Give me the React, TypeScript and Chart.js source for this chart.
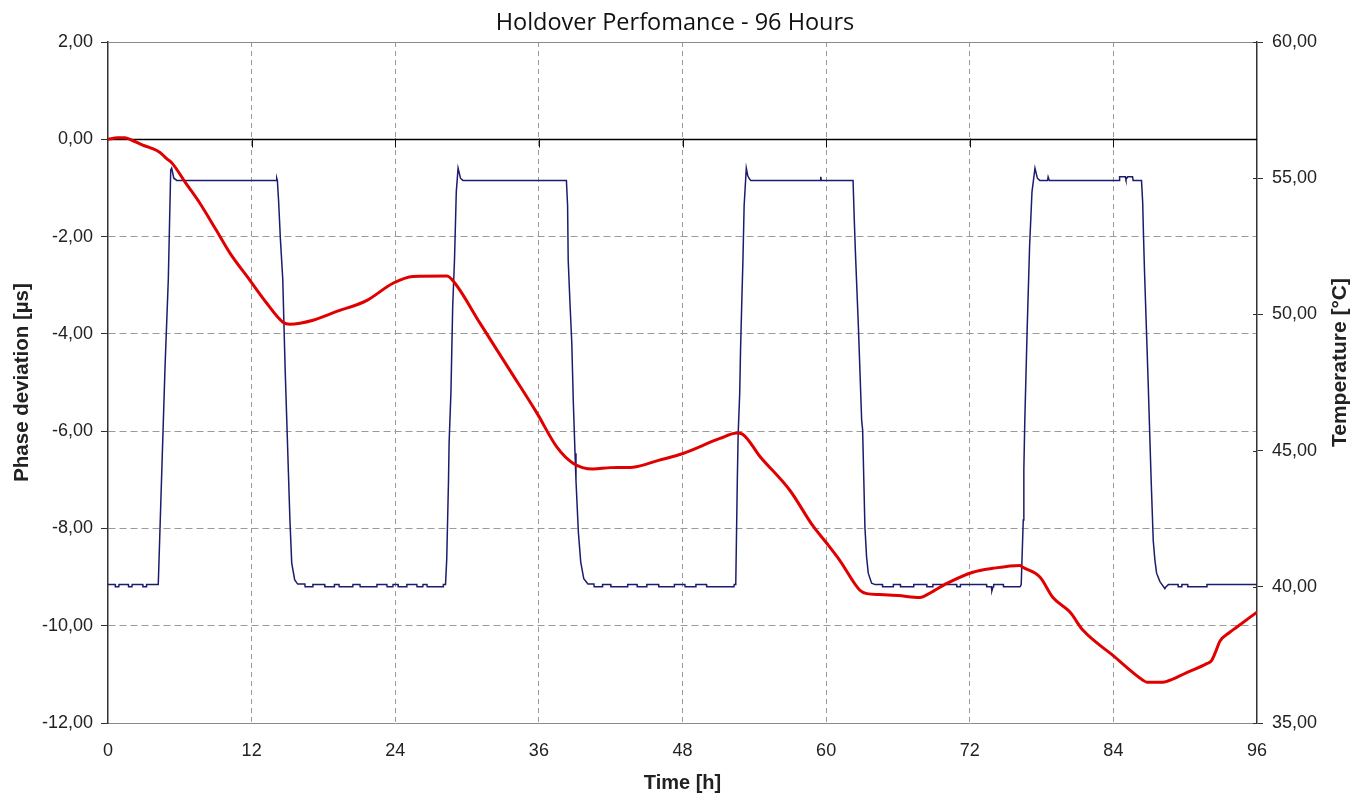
import React, { useEffect, useRef } from 'react';
import { Chart, registerables } from 'chart.js';

Chart.register(...registerables);

const chartTitle = 'Holdover Perfomance - 96 Hours';
const xAxisTitle = 'Time [h]';
const leftAxisTitle = 'Phase deviation [µs]';
const rightAxisTitle = 'Temperature [°C]';

const xTicks = [0, 12, 24, 36, 48, 60, 72, 84, 96];
const phaseTicks = [-12, -10, -8, -6, -4, -2, 0, 2];
const tempTicks = [35, 40, 45, 50, 55, 60];

// Phase deviation (red), µs
const phaseHours = [
  0, 0.8, 1.4, 2.0, 2.9, 3.6, 4.34, 4.9, 5.35, 6.5, 7.69, 9.0, 10.19, 11.86, 13.2, 14.62, 15.2,
  16.04, 17.13, 19.0, 21.64, 23.81, 25.48, 28.32, 28.99, 31.08, 33.58, 35.84, 37.51, 38.85,
  40.52, 42.0, 43.86, 46.0, 48.04, 51.13, 52.55, 53.0, 54.47, 56.98, 58.9, 60.07, 61.15, 62.82,
  63.4, 64.49, 66.0, 67.84, 68.67, 70.09, 72.26, 73.93, 76.19, 76.44, 77.86, 78.95, 80.37,
  81.45, 83.96, 86.47, 86.8, 88.14, 88.4, 90.0, 91.8, 92.2, 92.6, 92.9, 93.7, 94.3, 96.0,
];
const phaseValues = [
  0.0, 0.03, 0.03, -0.02, -0.12, -0.18, -0.27, -0.4, -0.49, -0.9, -1.32, -1.85, -2.34, -2.9, -3.35,
  -3.76, -3.8, -3.78, -3.72, -3.55, -3.31, -2.96, -2.82, -2.81, -2.96, -3.78, -4.75, -5.63, -6.33,
  -6.66, -6.78, -6.75, -6.74, -6.6, -6.46, -6.15, -6.04, -6.06, -6.52, -7.22, -7.95, -8.31, -8.66,
  -9.27, -9.34, -9.36, -9.38, -9.42, -9.33, -9.13, -8.9, -8.82, -8.76, -8.8, -9.0, -9.42, -9.72,
  -10.09, -10.61, -11.12, -11.16, -11.16, -11.15, -10.98, -10.78, -10.72, -10.5, -10.32, -10.14,
  -10.03, -9.72,
];

// Temperature (navy), °C
const tempHours = [
  0, 0.6, 0.62, 0.9, 0.92, 1.7, 1.72, 2.0, 2.02, 2.9, 2.92, 3.2, 3.22, 4.2,
  4.3, 4.76, 5.04, 5.24, 5.32, 5.5, 5.75,
  14.05, 14.1, 14.15,
  14.25, 14.4, 14.6, 14.8, 15.2, 15.35, 15.6, 15.85,
  16.45, 16.47, 17.1, 17.12, 18.1, 18.12, 18.9, 18.92, 19.3, 19.32, 20.45, 20.47, 21.05, 21.07,
  22.45, 22.47, 23.3, 23.32, 23.8, 23.82, 24.23, 24.25, 24.95, 24.97, 25.8, 25.82, 26.3, 26.32,
  26.65, 26.67, 28.0, 28.02, 28.2,
  28.3, 28.45, 28.5, 28.65, 28.8, 28.95, 29.1, 29.25, 29.45, 29.65,
  38.3,
  38.4, 38.45, 38.6, 38.75, 38.88, 39.02, 39.1, 39.3, 39.5, 39.75, 40.1,
  40.6, 40.62, 41.3, 41.32, 42.0, 42.02, 43.4, 43.42, 44.2, 44.22, 45.0, 45.02, 46.0, 46.02,
  47.3, 47.32, 48.2, 48.22, 49.1, 49.12, 50.0, 50.02, 52.3, 52.32, 52.45,
  52.58, 52.65, 52.78, 52.85, 52.95, 53.05, 53.15, 53.33, 53.45, 53.55, 53.7,
  59.5, 59.55, 59.6, 62.25,
  62.35, 62.45, 62.7, 62.97, 63.05, 63.15, 63.24, 63.38, 63.52, 63.8, 64.1,
  64.7, 64.72, 65.6, 65.62, 66.2, 66.22, 67.3, 67.32, 68.4, 68.42, 68.9, 68.92, 70.9, 70.92,
  71.2, 71.22, 73.4, 73.42, 73.8, 73.85, 73.95, 74.0, 74.8, 74.82, 76.2, 76.3,
  76.47, 76.52, 76.6, 76.8, 77.0, 77.2, 77.45, 77.65, 77.85,
  78.5, 78.55, 78.65, 84.5, 84.52, 85.0, 85.05, 85.2, 85.6, 85.65, 86.35,
  86.45, 86.52, 86.6, 86.9, 87.15, 87.33, 87.47, 87.61, 87.89, 88.2, 88.3, 88.4, 88.6,
  89.4, 89.42, 89.7, 89.72, 90.2, 90.22, 91.8, 91.82, 96,
];
const tempValues = [
  40.08, 40.08, 40.0, 40.0, 40.08, 40.08, 40.0, 40.0, 40.08, 40.08, 40.0, 40.0, 40.08, 40.08,
  41.5, 48.0, 51.3, 55.3, 55.37, 55.0, 54.92,
  54.92, 55.0, 54.92,
  54.2, 52.8, 51.3, 48.0, 42.45, 40.87, 40.25, 40.1,
  40.1, 40.0, 40.0, 40.08, 40.08, 40.0, 40.0, 40.08, 40.08, 40.0, 40.0, 40.08, 40.08, 40.0,
  40.0, 40.08, 40.08, 40.0, 40.0, 40.08, 40.08, 40.0, 40.0, 40.08, 40.08, 40.0, 40.0, 40.08,
  40.08, 40.0, 40.0, 40.08, 40.08,
  41.0, 43.9, 45.3, 47.1, 50.3, 52.0, 54.5, 55.37, 55.0, 54.92,
  54.92,
  54.0, 52.0, 50.4, 48.95, 46.75, 44.9, 43.9, 42.0, 40.9, 40.3, 40.1,
  40.1, 40.0, 40.0, 40.08, 40.08, 40.0, 40.0, 40.08, 40.08, 40.0, 40.0, 40.08, 40.08, 40.0,
  40.0, 40.08, 40.08, 40.0, 40.0, 40.08, 40.08, 40.0, 40.0, 40.08, 40.08,
  43.9, 45.6, 47.1, 48.7, 50.4, 52.0, 54.0, 55.37, 55.1, 55.0, 54.92,
  54.92, 55.05, 54.92, 54.92,
  53.5, 52.25, 49.5, 46.1, 45.76, 43.9, 42.2, 41.1, 40.5, 40.13, 40.08,
  40.08, 40.0, 40.0, 40.08, 40.08, 40.0, 40.0, 40.08, 40.08, 40.0, 40.0, 40.08, 40.08, 40.0,
  40.0, 40.08, 40.08, 40.0, 40.0, 39.85, 40.0, 40.08, 40.08, 40.0, 40.0, 40.08,
  42.45, 44.3, 46.1, 49.5, 52.5, 54.5, 55.37, 55.0, 54.92,
  54.92, 55.05, 54.92, 54.92, 55.05, 55.05, 54.95, 55.05, 55.05, 54.92, 54.92,
  54.1, 52.85, 51.6, 47.6, 44.0, 41.7, 40.98, 40.5, 40.19, 40.0, 39.93, 40.0, 40.08,
  40.08, 40.0, 40.0, 40.08, 40.08, 40.0, 40.0, 40.08, 40.08,
];

const fmt2 = (v: number) => v.toFixed(2).replace('.', ',');

const framePlugin = {
  id: 'frameExtras',
  beforeDatasetsDraw(chart: any) {
    const { ctx, chartArea, scales } = chart;
    const y = scales.y;
    const x = scales.x;
    const y1 = scales.y1;
    ctx.save();
    // top frame line
    ctx.strokeStyle = '#8a8a8a';
    ctx.lineWidth = 1;
    ctx.beginPath();
    ctx.moveTo(chartArea.left, chartArea.top + 0.5);
    ctx.lineTo(chartArea.right, chartArea.top + 0.5);
    ctx.stroke();
    // zero line
    const y0 = Math.round(y.getPixelForValue(0)) + 0.5;
    ctx.strokeStyle = '#000';
    ctx.lineWidth = 1.5;
    ctx.beginPath();
    ctx.moveTo(chartArea.left, y0);
    ctx.lineTo(chartArea.right, y0);
    ctx.stroke();
    // tick marks on the zero line
    ctx.lineWidth = 1;
    ctx.strokeStyle = '#111';
    xTicks.forEach((t) => {
      if (t === xTicks[0] || t === xTicks[xTicks.length - 1]) return;
      const px = Math.round(x.getPixelForValue(t)) + 0.5;
      ctx.beginPath();
      ctx.moveTo(px, y0 - 1);
      ctx.lineTo(px, y0 + 8);
      ctx.stroke();
    });
    // inner part of right-axis tick marks
    ctx.strokeStyle = '#333';
    tempTicks.forEach((t) => {
      const py = Math.round(y1.getPixelForValue(t)) + 0.5;
      ctx.beginPath();
      ctx.moveTo(chartArea.right - 4, py);
      ctx.lineTo(chartArea.right, py);
      ctx.stroke();
    });
    ctx.restore();
  },
  afterDraw(chart: any) {
    const { ctx, chartArea } = chart;
    ctx.save();
    ctx.font = 'bold 21px "Liberation Sans", Arial, sans-serif';
    ctx.fillStyle = '#222';
    ctx.textAlign = 'center';
    ctx.textBaseline = 'middle';
    ctx.translate(chart.width - 10, (chartArea.top + chartArea.bottom) / 2 - 20);
    ctx.rotate(-Math.PI / 2);
    ctx.fillText(rightAxisTitle, 0, 0);
    ctx.restore();
  },
};

export default function App() {
  const ref = useRef<HTMLCanvasElement>(null);

  useEffect(() => {
    const phaseData = phaseHours.map((h, i) => ({ x: h, y: phaseValues[i] }));
    const tempData = tempHours.map((h, i) => ({ x: h, y: tempValues[i] }));
    const tickFont = { family: '"Liberation Sans", Arial, sans-serif', size: 18 };

    const chart = new Chart(ref.current as HTMLCanvasElement, {
      type: 'line',
      data: {
        datasets: [
          {
            label: 'Phase deviation',
            data: phaseData,
            yAxisID: 'y',
            borderColor: '#e00000',
            borderWidth: 3,
            pointRadius: 0,
            fill: false,
            cubicInterpolationMode: 'monotone',
          },
          {
            label: 'Temperature',
            data: tempData,
            yAxisID: 'y1',
            borderColor: '#1c1c6e',
            borderWidth: 1.5,
            pointRadius: 0,
            fill: false,
          },
        ],
      },
      options: {
        responsive: false,
        animation: false,
        events: [],
        layout: { padding: 0 },
        plugins: {
          legend: { display: false },
          tooltip: { enabled: false },
          title: {
            display: true,
            text: chartTitle,
            color: '#111',
            font: { family: '"Open Sans", sans-serif', size: 23.5, weight: 'normal', lineHeight: 1.2 },
            padding: { top: 9, bottom: 4.8 },
          },
        },
        scales: {
          x: {
            type: 'linear',
            min: 0,
            max: 96,
            afterBuildTicks: (s: any) => {
              s.ticks = xTicks.map((v) => ({ value: v }));
            },
            afterFit: (s: any) => {
              s.height = 70;
            },
            ticks: {
              color: '#222',
              font: tickFont,
              padding: 17,
              maxRotation: 0,
              callback: (v: any) => String(v),
            },
            grid: {
              drawTicks: false,
              color: (c: any) =>
                c.tick && (c.tick.value === xTicks[0] || c.tick.value === xTicks[xTicks.length - 1])
                  ? 'rgba(0,0,0,0)'
                  : '#9a9a9a',
              lineWidth: 1,
            },
            border: { display: true, color: '#8a8a8a', width: 1, dash: [5, 4] },
            title: {
              display: true,
              text: xAxisTitle,
              color: '#222',
              font: { family: '"Liberation Sans", Arial, sans-serif', size: 20, weight: 'bold', lineHeight: 1 },
              padding: { top: 0, bottom: 0 },
            },
          },
          y: {
            type: 'linear',
            position: 'left',
            min: -12,
            max: 2,
            afterBuildTicks: (s: any) => {
              s.ticks = phaseTicks.map((v) => ({ value: v }));
            },
            afterFit: (s: any) => {
              s.width = 108;
            },
            ticks: {
              color: '#222',
              font: tickFont,
              padding: 8,
              callback: (v: any) => fmt2(Number(v)),
            },
            grid: {
              drawTicks: true,
              tickLength: 7,
              tickColor: '#333',
              color: (c: any) =>
                c.tick && (c.tick.value === 2 || c.tick.value === 0 || c.tick.value === -12)
                  ? 'rgba(0,0,0,0)'
                  : '#9a9a9a',
              lineWidth: 1,
            },
            border: { display: true, color: '#333', width: 1.5, dash: [7, 4] },
            title: {
              display: true,
              text: leftAxisTitle,
              color: '#222',
              font: { family: '"Liberation Sans", Arial, sans-serif', size: 20.5, weight: 'bold', lineHeight: 1 },
              padding: { top: 12, bottom: 0 },
            },
          },
          y1: {
            type: 'linear',
            position: 'right',
            min: 35,
            max: 60,
            afterBuildTicks: (s: any) => {
              s.ticks = tempTicks.map((v) => ({ value: v }));
            },
            afterFit: (s: any) => {
              s.width = 93;
            },
            ticks: {
              color: '#222',
              font: tickFont,
              padding: 9,
              callback: (v: any) => fmt2(Number(v)),
            },
            grid: {
              drawOnChartArea: false,
              drawTicks: true,
              tickLength: 6,
              tickColor: '#333',
            },
            border: { display: true, color: '#333', width: 1.5 },
            title: { display: false },
          },
        },
      },
      plugins: [framePlugin],
    });

    return () => chart.destroy();
  }, []);

  return (
    <div style={{ position: 'absolute', left: 0, top: 0, width: 1350, height: 793, background: '#fff' }}>
      <canvas ref={ref} width={1350} height={793} style={{ display: 'block' }} />
    </div>
  );
}
